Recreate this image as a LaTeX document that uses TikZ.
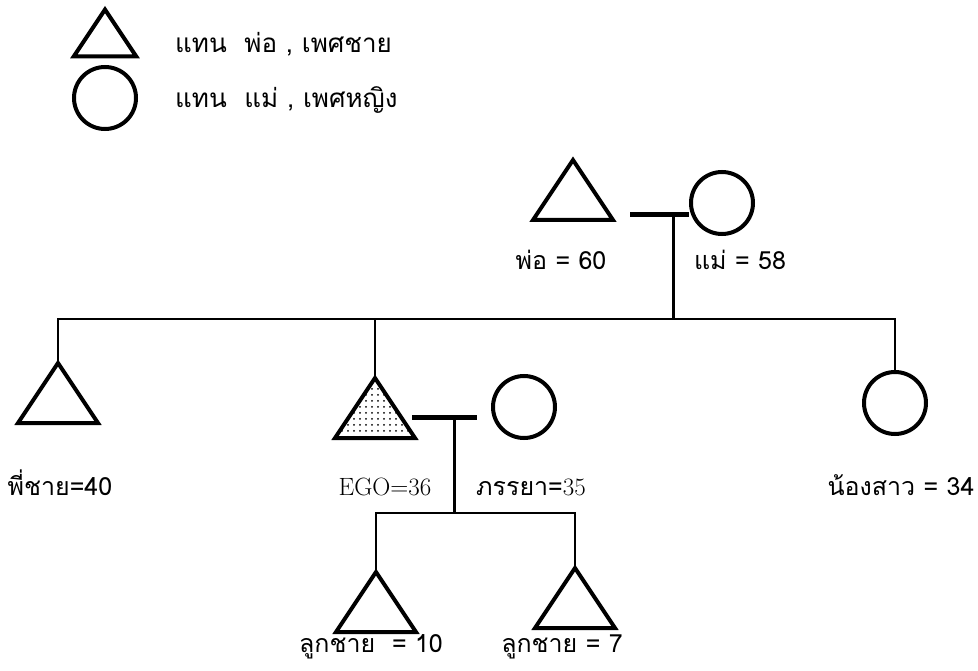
\documentclass[tikz,border=0pt]{standalone}
\usepackage{fontspec}
\newfontfamily\thai[Script=Thai]{Loma}
\usetikzlibrary{positioning, patterns.meta}

\begin{document}
\begin{tikzpicture}[x=1pt, y=-1pt,
    sym/.style={line width=4pt, line join=miter},
    female/.style={circle, draw, line width=4pt, minimum size=62, inner sep=0},
    marriage/.style={line width=5pt},
    descent/.style={line width=2.2pt},
    lbl/.style={font=\thai\fontsize{25}{30}\selectfont, inner sep=0, anchor=base},
    key/.style={font=\thai\fontsize{26}{30}\selectfont, inner sep=0, anchor=base west},
    male/.pic={
        \draw[sym, pic actions] (0,-30) -- (40,30) -- (-40,30) -- cycle;
        \coordinate (-top) at (0,-30);
        \coordinate (-base) at (0,30);
    }]
    \useasboundingbox (0,0) rectangle (978,671);

    % Legend
        \pic[scale=.78] (keym) at (105,33) {male};
        \node[female] (keyf) at (105,98) {};
        \node[key] (keymtext) at (175,53) {แทน\ \ พ่อ , เพศชาย};
        \node[key] (keyftext) at (175,108) {แทน\ \ แม่ , เพศหญิง};

    % Parents
        \pic (dad) at (573,190) {male};
        \node[female] (mum) at (722,203) {};
        \coordinate (m1) at (630,215);
        \coordinate (k1) at (673,215);
        \coordinate (sib) at (673,319);
        \node[lbl] (dadlbl) at (561,270) {พ่อ = 60};
        \node[lbl] (mumlbl) at (740,270) {แม่ = 58};

    % Children of the parents
        \pic (bro) at (58,393) {male};
        \pic[pattern={Dots[distance=6pt, radius=1pt]}] (ego) at (375,408) {male};
        \node[female] (wife) at (524,407) {};
        \node[female] (sis) at (895,403) {};
        \node[lbl] (brolbl) at (60,495) {พี่ชาย=40};
        \node[lbl, font=\fontsize{25}{30}\selectfont] (egolbl) at (385,495) {EGO=36};
        \node[lbl] (wifelbl) at (531,495) {ภรรยา=\rmfamily 35};
        \node[lbl] (sislbl) at (901,495) {น้องสาว = 34};
        \coordinate (m2) at (412,417);
        \coordinate (m2end) at (477,417);
        \coordinate (k2) at (454,417);
        \coordinate (kids) at (454,513);

    % Grandchildren
        \pic (son1) at (376,602) {male};
        \pic (son2) at (575,598) {male};
        \node[lbl] (son1lbl) at (371,652) {ลูกชาย\ \ = 10};
        \node[lbl] (son2lbl) at (562,652) {ลูกชาย = 7};

    % Lines
        \draw[marriage] (m1) -- (mum.west |- m1);
        \draw[line width=3pt] (k1) -- (sib);
        \draw[descent] (bro-top) -- (bro-top |- sib) -- (sis.north |- sib) -- (sis.north);
        \draw[descent] (ego-top) -- (ego-top |- sib);
        \draw[marriage] (m2) -- (m2end);
        \draw[line width=3pt] (k2) -- (kids);
        \draw[descent] (son1-top) -- (son1-top |- kids) -- (son2-top |- kids) -- (son2-top);
\end{tikzpicture}
\end{document}
